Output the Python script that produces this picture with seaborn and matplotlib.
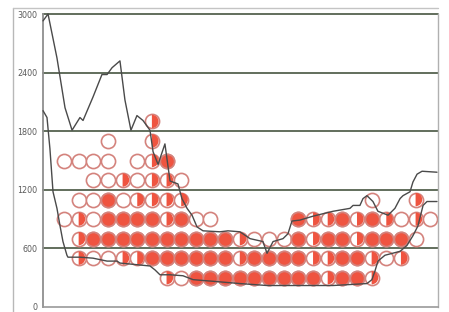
import numpy as np
import pandas as pd
import matplotlib
matplotlib.use("Agg")
import matplotlib.pyplot as plt
import seaborn as sns
from matplotlib.path import Path
from matplotlib.lines import Line2D

# ---- data ----
y_ticks = [0, 600, 1200, 1800, 2400, 3000]
y_tick_labels = ["0", "600", "1200", "1800", "2400", "3000"]

# circle grid: one string per row (level), one char per column 0..25
# '.' = none, 'o' = open, 'h' = half filled, 'f' = filled
row_levels = [1900, 1700, 1500, 1300, 1100, 900, 700, 500, 300]
row_codes = [
    "......h...................",
    "...o..h...................",
    "oooo.ohf..................",
    "..oohohho.................",
    ".oofohhhh............o..h.",
    "ohoffffhfoo.....fhhfhfhoho",
    ".hffffffffffhooofhffhfffo.",
    ".hoohhffffffhffffhhffhoh..",
    ".......hofffffffffhffh....",
]

upper_x = [-1.43, -1.09, -0.48, 0.07, 0.55, 1.09, 1.30, 1.98, 2.59, 2.94, 3.28, 3.82,
           4.16, 4.57, 4.98, 5.39, 5.87, 6.08, 6.42, 6.89, 7.10, 7.24, 7.78, 8.05,
           8.40, 8.74, 9.08, 9.49, 10.65, 11.19, 12.01, 12.70, 13.58, 13.86, 14.27,
           14.95, 15.29, 15.56, 16.11, 17.00, 18.36, 19.52, 19.73, 20.20, 20.41,
           20.68, 21.09, 21.43, 22.12, 22.59, 22.94, 23.14, 23.62, 23.82, 24.10,
           24.44, 25.46]
upper_y = [2930, 3000, 2550, 2040, 1810, 1940, 1910, 2150, 2380, 2380, 2450, 2520,
           2120, 1810, 1960, 1910, 1810, 1590, 1460, 1670, 1440, 1290, 1260, 1110,
           1010, 940, 820, 780, 770, 780, 770, 700, 670, 550, 670,
           700, 750, 880, 890, 930, 980, 1010, 1040, 1040, 1110,
           1140, 1080, 980, 940, 1010, 1110, 1140, 1180, 1280, 1360,
           1390, 1380]

lower_x = [-1.43, -1.16, -0.96, -0.75, -0.48, -0.27, -0.07, 0.20, 0.27, 1.09, 1.98,
           2.94, 3.62, 3.82, 5.19, 5.87, 6.21, 6.55, 7.24, 8.12, 8.81, 10.44, 12.01,
           13.86, 16.11, 18.36, 20.68, 21.02, 21.23, 21.43, 21.91, 22.94, 23.41,
           23.82, 24.16, 24.51, 24.78, 25.46]
lower_y = [2010, 1940, 1620, 1180, 1010, 830, 670, 530, 510, 510, 500,
           470, 470, 450, 430, 420, 380, 330, 330, 320, 280, 260, 240,
           220, 220, 220, 240, 280, 370, 470, 530, 570, 630,
           730, 830, 1040, 1080, 1080]

# ---- build table ----
recs = []
for lvl, code in zip(row_levels, row_codes):
    for col, ch in enumerate(code):
        if ch != ".":
            recs.append({"x": col, "y": lvl, "state": ch})
df = pd.DataFrame(recs)

RED = "#ef5440"
EDGE = "#d4837d"
GRID = "#55624f"
LINE = "#4a4a4a"

sns.set_theme(style="white")
plt.rcParams["font.family"] = ["DejaVu Sans"]

W, H = 449, 312
Y0, Y3000 = 307, 14
fig = plt.figure(figsize=(W / 100, H / 100), dpi=100)
fig.patch.set_facecolor("white")
ax = fig.add_axes([43 / W, 1 - Y0 / H, (438 - 43) / W, (Y0 - Y3000) / H])
ax.set_facecolor("white")

# outer frame (left and top edges)
fig.add_artist(Line2D([13 / W, 13 / W], [0, 1 - 8 / H], transform=fig.transFigure,
                      color="#b8b8b8", lw=1.0))
fig.add_artist(Line2D([13 / W, 438 / W], [1 - 8 / H, 1 - 8 / H],
                      transform=fig.transFigure, color="#c4c4c4", lw=1.0))

# gridlines
for t in y_ticks[1:]:
    ax.axhline(t, color=GRID, lw=1.3, zorder=1)

S = 104
LW = 1.2
# right-half disk marker
arc = Path.arc(-90, 90)
half_path = Path(np.vstack([arc.vertices, arc.vertices[:1]]),
                 np.concatenate([arc.codes, [Path.CLOSEPOLY]]))

# base circles (white with edge)
sns.scatterplot(data=df, x="x", y="y", ax=ax, color="white", edgecolor=EDGE,
                s=S, linewidth=LW, zorder=2, legend=False)
# filled circles
sns.scatterplot(data=df[df.state == "f"], x="x", y="y", ax=ax, color=RED,
                edgecolor=EDGE, s=S, linewidth=LW, zorder=3, legend=False)
# half circles (right half red)
s_half = (np.sqrt(S) - 0.6) ** 2
sns.scatterplot(data=df[df.state == "h"], x="x", y="y", ax=ax, color=RED,
                marker=half_path, edgecolor="none", s=s_half, linewidth=0,
                zorder=3, legend=False)

# lines
sns.lineplot(x=upper_x, y=upper_y, ax=ax, sort=False, estimator=None,
             color=LINE, lw=1.0, zorder=5)
sns.lineplot(x=lower_x, y=lower_y, ax=ax, sort=False, estimator=None,
             color=LINE, lw=1.0, zorder=5)
for l in ax.lines:
    l.set_clip_on(False)

ax.set_xlim(-1.433, 25.53)
ax.set_ylim(0, 3000)
ax.set_xticks([])
ax.set_yticks(y_ticks)
ax.set_yticklabels(y_tick_labels)
ax.tick_params(axis="y", length=0, pad=4, labelsize=5.8, labelcolor="#5a5a5a")
ax.set_xlabel("")
ax.set_ylabel("")
ax.grid(False)
ax.spines["top"].set_visible(False)
ax.spines["left"].set_color("#8f8f8f")
ax.spines["left"].set_linewidth(1.3)
ax.spines["bottom"].set_color("#9a9a9a")
ax.spines["bottom"].set_linewidth(1.2)
ax.spines["right"].set_color("#b0b0b0")
ax.spines["right"].set_linewidth(1.0)

fig.savefig("out.png", dpi=100, facecolor="white")
